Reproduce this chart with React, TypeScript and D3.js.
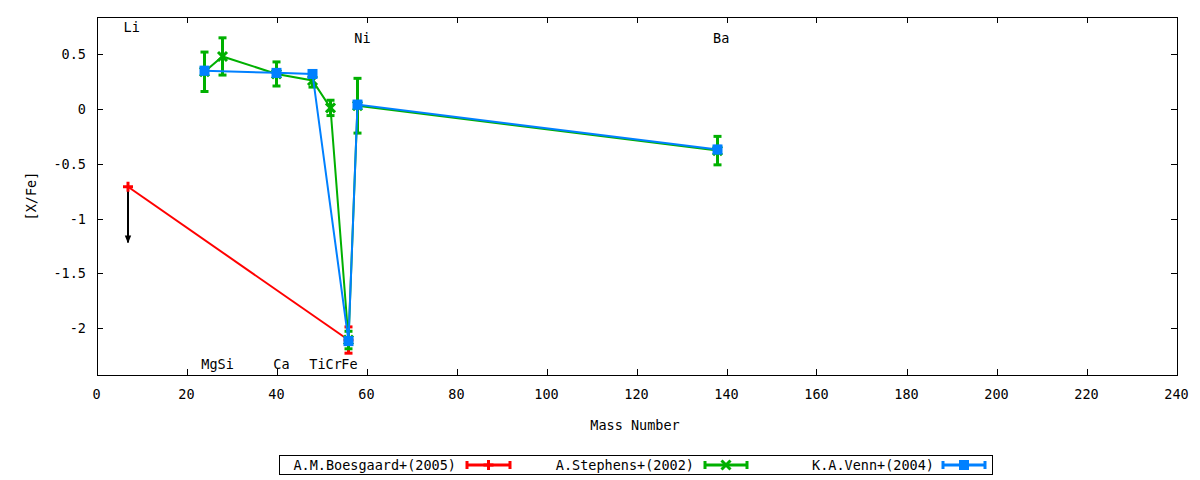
import React from 'react';
import * as d3 from 'd3';

// mass numbers of the measured elements
const boesgaardMass = [7, 56];
const boesgaardValue = [-0.71, -2.11];
const boesgaardErr = [0, 0.12];
const boesgaardUpperLimit = [true, false];
const liArrowTo = -1.22;

const stephensMass = [24, 28, 40, 48, 52, 56, 58, 138];
const stephensValue = [0.34, 0.48, 0.32, 0.26, 0.01, -2.11, 0.03, -0.38];
const stephensErr = [0.18, 0.17, 0.11, 0.06, 0.07, 0.08, 0.25, 0.13];

const vennMass = [24, 40, 48, 56, 58, 138];
const vennValue = [0.35, 0.33, 0.32, -2.12, 0.04, -0.37];
const vennErr = [0.03, 0.03, 0.03, 0.03, 0.03, 0.03];

const elementNames = ['Li', 'Ni', 'Ba', 'Mg', 'Si', 'Ca', 'Ti', 'Cr', 'Fe'];
const elementLabelX = [6.0, 57.3, 137.0, 23.3, 26.9, 39.3, 47.3, 50.9, 54.4];
const elementLabelY = [0.7, 0.6, 0.6, -2.37, -2.37, -2.37, -2.37, -2.37, -2.37];

const xTicks = [0, 20, 40, 60, 80, 100, 120, 140, 160, 180, 200, 220, 240];
const yTicks = [0.5, 0, -0.5, -1, -1.5, -2];

const seriesNames = ['A.M.Boesgaard+(2005)', 'A.Stephens+(2002)', 'K.A.Venn+(2004)'];
const seriesColors = ['#ff0000', '#00b000', '#0080ff'];

const FONT = '"DejaVu Sans Mono", monospace';

const plot = { left: 97, right: 1177, top: 17, bottom: 375 };

type Pt = { m: number; v: number; e: number };

const zipSeries = (m: number[], v: number[], e: number[]): Pt[] =>
  m.map((mm, i) => ({ m: mm, v: v[i], e: e[i] }));

const Marker: React.FC<{ kind: number; x: number; y: number; color: string }> = ({ kind, x, y, color }) => {
  if (kind === 0) {
    return (
      <g stroke={color} strokeWidth={3}>
        <line x1={x - 5} x2={x + 5} y1={y} y2={y} />
        <line x1={x} x2={x} y1={y - 5} y2={y + 5} />
      </g>
    );
  }
  if (kind === 1) {
    return (
      <g stroke={color} strokeWidth={3}>
        <line x1={x - 4.5} x2={x + 4.5} y1={y - 4.5} y2={y + 4.5} />
        <line x1={x - 4.5} x2={x + 4.5} y1={y + 4.5} y2={y - 4.5} />
      </g>
    );
  }
  return <rect x={x - 5} y={y - 5} width={10} height={10} fill={color} />;
};

const App: React.FC = () => {
  const x = d3.scaleLinear().domain([0, 240]).range([plot.left - 0.5, plot.right - 0.5]);
  const y = d3.scaleLinear().domain([0, -2]).range([109, 328]);

  const series = [
    zipSeries(boesgaardMass, boesgaardValue, boesgaardErr),
    zipSeries(stephensMass, stephensValue, stephensErr),
    zipSeries(vennMass, vennValue, vennErr),
  ];

  const line = d3.line<Pt>().x(d => x(d.m)).y(d => y(d.v));

  const legendSlots = [
    { textEnd: 456, s0: 467, s1: 510 },
    { textEnd: 694, s0: 705, s1: 747 },
    { textEnd: 934, s0: 943, s1: 985 },
  ];

  return (
    <svg
      width={1200}
      height={480}
      style={{ position: 'absolute', left: 0, top: 0, background: '#fff' }}
      fontFamily={FONT}
      fontSize={13.5}
    >
      <defs>
        <marker id="ah" viewBox="0 0 10 10" refX="9" refY="5" markerWidth="4" markerHeight="4" orient="auto">
          <path d="M0,1 L10,5 L0,9 Z" fill="#000" />
        </marker>
      </defs>
      <rect x={0} y={0} width={1200} height={480} fill="#fff" />

      {/* frame and ticks */}
      <rect
        x={plot.left + 0.5}
        y={plot.top + 0.5}
        width={plot.right - plot.left}
        height={plot.bottom - plot.top}
        fill="none"
        stroke="#000"
      />
      {xTicks.map(t => (
        <g key={`x${t}`}>
          <line x1={Math.round(x(t)) + 0.5} x2={Math.round(x(t)) + 0.5} y1={plot.bottom} y2={plot.bottom - 6} stroke="#000" />
          <line x1={Math.round(x(t)) + 0.5} x2={Math.round(x(t)) + 0.5} y1={plot.top} y2={plot.top + 6} stroke="#000" />
          <text x={x(t)} y={399} textAnchor="middle">{t}</text>
        </g>
      ))}
      {yTicks.map(t => (
        <g key={`y${t}`}>
          <line x1={plot.left} x2={plot.left + 6} y1={Math.round(y(t)) + 0.5} y2={Math.round(y(t)) + 0.5} stroke="#000" />
          <line x1={plot.right} x2={plot.right - 6} y1={Math.round(y(t)) + 0.5} y2={Math.round(y(t)) + 0.5} stroke="#000" />
          <text x={86} y={y(t) + 5} textAnchor="end">{t === 0 ? '0' : String(t)}</text>
        </g>
      ))}

      <text x={635} y={430} textAnchor="middle">Mass Number</text>
      <text transform="translate(36,196) rotate(-90)" textAnchor="middle">[X/Fe]</text>

      {/* element labels */}
      {elementNames.map((n, i) => (
        <text key={n} x={x(elementLabelX[i])} y={y(elementLabelY[i])}>{n}</text>
      ))}

      {/* Li upper limit */}
      <line
        x1={x(boesgaardMass[0])}
        x2={x(boesgaardMass[0])}
        y1={y(boesgaardValue[0])}
        y2={y(liArrowTo)}
        stroke="#000"
        strokeWidth={2}
        markerEnd="url(#ah)"
      />

      {/* series */}
      {series.map((pts, si) => (
        <g key={si}>
          <path d={line(pts) || ''} fill="none" stroke={seriesColors[si]} strokeWidth={2} />
          {pts.map((p, i) =>
            si === 0 && boesgaardUpperLimit[i] ? null : (
              <g key={i} stroke={seriesColors[si]} strokeWidth={3}>
                <line x1={x(p.m)} x2={x(p.m)} y1={y(p.v + p.e)} y2={y(p.v - p.e)} />
                <line x1={x(p.m) - 4} x2={x(p.m) + 4} y1={y(p.v + p.e)} y2={y(p.v + p.e)} />
                <line x1={x(p.m) - 4} x2={x(p.m) + 4} y1={y(p.v - p.e)} y2={y(p.v - p.e)} />
              </g>
            )
          )}
          {pts.map((p, i) => (
            <Marker key={`m${i}`} kind={si} x={x(p.m)} y={y(p.v)} color={seriesColors[si]} />
          ))}
        </g>
      ))}

      {/* legend */}
      <rect x={279.5} y={455.5} width={713} height={19} fill="#fff" stroke="#000" />
      {seriesNames.map((n, i) => {
        const s = legendSlots[i];
        const c = seriesColors[i];
        const mid = (s.s0 + s.s1) / 2;
        return (
          <g key={n}>
            <text x={s.textEnd} y={470} textAnchor="end">{n}</text>
            <g stroke={c} strokeWidth={3}>
              <line x1={s.s0} x2={s.s1} y1={465} y2={465} />
              <line x1={s.s0} x2={s.s0} y1={461} y2={469} />
              <line x1={s.s1} x2={s.s1} y1={461} y2={469} />
            </g>
            <Marker kind={i} x={mid} y={465} color={c} />
          </g>
        );
      })}
    </svg>
  );
};

export default App;
